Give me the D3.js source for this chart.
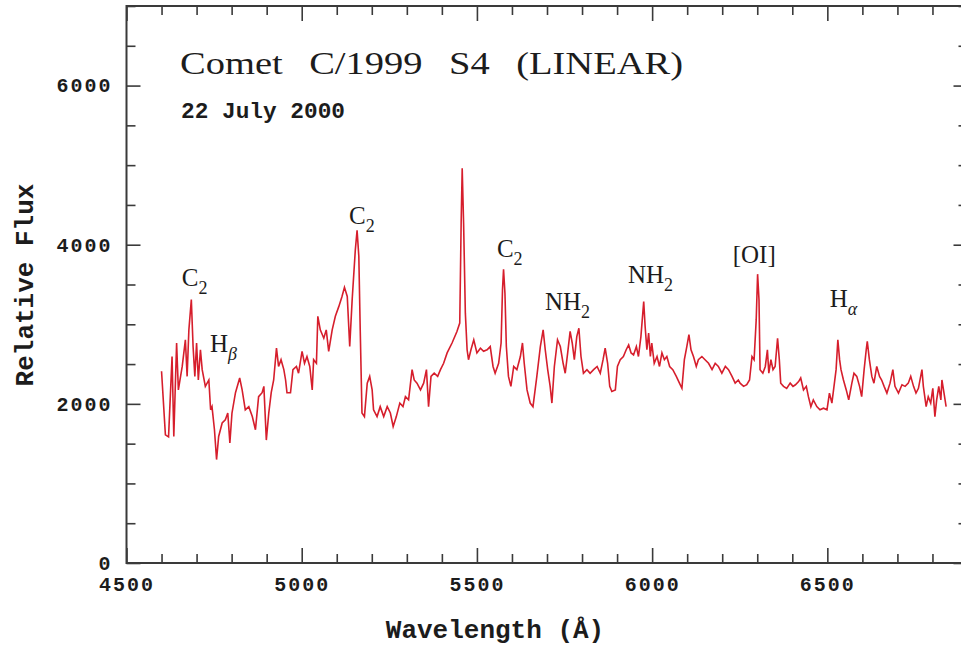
<!DOCTYPE html>
<html>
<head>
<meta charset="utf-8">
<script src="https://cdn.jsdelivr.net/npm/d3@7"></script>
<style>
  html, body { margin: 0; padding: 0; background: #fff; }
  svg { display: block; }
</style>
</head>
<body>
<svg id="chart" width="961" height="647"></svg>
<script>
// ---------------- data ----------------
const wavelength = [
  4600,4611,4620,4630,4635,4643,4648,4659,4668,4673,
  4678,4685,4690,4695,4700,4705,4711,4716,4725,4735,
  4740,4744,4751,4757,4763,4773,4782,4789,4795,4801,
  4811,4823,4830,4839,4849,4859,4868,4877,4887,4892,
  4899,4906,4913,4920,4928,4934,4941,4949,4954,4958,
  4968,4975,4985,4991,5001,5008,5015,5023,5030,5034,
  5042,5046,5053,5063,5070,5077,5087,5096,5106,5115,
  5122,5130,5137,5144,5153,5158,5163,5167,5172,5179,
  5187,5194,5201,5205,5215,5224,5234,5244,5253,5261,
  5270,5280,5289,5296,5305,5315,5321,5329,5339,5348,
  5356,5362,5369,5378,5388,5396,5405,5415,5429,5443,
  5451,5455,5458,5462,5467,5472,5476,5483,5491,5500,
  5510,5519,5529,5538,5546,5552,5562,5569,5573,5576,
  5580,5584,5590,5597,5605,5614,5624,5630,5635,5643,
  5652,5660,5671,5681,5689,5695,5702,5709,5714,5721,
  5730,5738,5746,5752,5759,5766,5772,5778,5785,5791,
  5797,5804,5814,5823,5833,5843,5852,5860,5866,5873,
  5879,5885,5895,5901,5909,5918,5926,5933,5940,5947,
  5955,5961,5968,5976,5980,5985,5990,5995,5999,6006,
  6014,6021,6028,6035,6042,6050,6059,6069,6078,6085,
  6092,6099,6105,6111,6118,6126,6132,6142,6151,6161,
  6171,6180,6189,6199,6209,6218,6228,6237,6246,6251,
  6261,6270,6278,6285,6291,6297,6301,6305,6308,6316,
  6323,6329,6333,6339,6345,6351,6358,6363,6367,6375,
  6384,6394,6402,6409,6418,6424,6432,6440,6446,6453,
  6460,6470,6479,6489,6499,6506,6513,6519,6525,6530,
  6535,6539,6546,6554,6561,6570,6576,6584,6592,6598,
  6605,6611,6614,6620,6627,6633,6641,6649,6655,6662,
  6670,6679,6687,6693,6703,6713,6722,6731,6738,6746,
  6753,6760,6770,6774,6782,6788,6795,6801,6807,6812,
  6818,6824,6827,6833,6839
];
const flux = [
  2410,1610,1585,2595,1590,2765,2175,2470,2805,2345,
  2930,3310,2720,2345,2765,2300,2680,2430,2220,2300,
  1925,1965,1675,1300,1590,1760,1800,1885,1510,1885,
  2140,2325,2175,1925,1965,1840,1675,2090,2140,2220,
  1545,1885,2140,2300,2700,2470,2555,2430,2300,2140,
  2140,2430,2470,2385,2660,2510,2595,2470,2175,2555,
  2510,3100,2930,2825,2930,2660,2930,3100,3225,3350,
  3465,3350,2720,3310,3935,4180,3855,2930,1885,1840,
  2260,2345,2175,1925,1840,1965,1840,1965,1885,1715,
  1840,2010,1965,2090,2050,2430,2300,2260,2175,2260,
  2430,1965,2345,2385,2345,2430,2510,2640,2765,2910,
  3015,4270,4960,4270,3140,2680,2555,2680,2805,2640,
  2700,2660,2680,2720,2470,2385,2510,2765,3435,3690,
  3390,2720,2345,2220,2470,2430,2595,2765,2510,2175,
  2010,1965,2345,2720,2930,2680,2430,2220,2010,2470,
  2805,2720,2510,2385,2640,2910,2765,2555,2845,2950,
  2595,2385,2430,2385,2430,2470,2385,2555,2700,2510,
  2220,2155,2175,2470,2555,2595,2680,2740,2640,2615,
  2720,2595,2845,3285,2975,2680,2890,2595,2765,2510,
  2595,2470,2640,2555,2595,2470,2430,2345,2260,2195,
  2555,2720,2870,2680,2595,2470,2555,2595,2555,2510,
  2430,2510,2470,2385,2470,2430,2345,2260,2300,2260,
  2220,2240,2300,2595,2555,3055,3630,3310,2430,2385,
  2470,2680,2385,2555,2430,2470,2825,2555,2260,2220,
  2195,2260,2220,2240,2280,2325,2175,2220,2090,1965,
  2050,1965,1925,1945,1925,2135,2010,2220,2430,2805,
  2555,2430,2300,2175,2050,2260,2385,2345,2220,2090,
  2430,2680,2785,2555,2345,2260,2470,2345,2300,2220,
  2135,2260,2430,2220,2135,2240,2220,2260,2345,2220,
  2135,2195,2430,2220,1965,2090,2010,2195,1840,2050,
  2220,2050,2300,2135,1965
];

const xMajorTicks = [4500, 5000, 5500, 6000, 6500];
const yMajorTicks = [0, 2000, 4000, 6000];

const titleText = "Comet C/1999 S4 (LINEAR)";
const dateText = "22 July 2000";
const xLabel = "Wavelength (Å)";
const yLabel = "Relative Flux";

// line identifications: main text, subscript, anchor in data units (wavelength, flux)
const lineNames = ["C", "H", "C", "C", "NH", "NH", "[OI]", "H"];
const lineSubs  = ["2", "β", "2", "2", "2", "2", "", "α"];
const lineLam   = [4658, 4738, 5135, 5557, 5694, 5931, 6230, 6507];
const lineFlux  = [3487, 2647, 4265, 3851, 3174, 3525, 3776, 3211];

// ---------------- layout ----------------
const svg = d3.select("#chart");
const L = 126.5, R = 967.5, T = 6, B = 563;
const x = d3.scaleLinear().domain([4500, 6900]).range([L, R]);
const y = d3.scaleLinear().domain([0, 7000]).range([B, T]);

const axisColor = "#3a3a3a";
const textColor = "#1c1c1c";
const monoFont = "'Liberation Mono', 'DejaVu Sans Mono', monospace";
const serifFont = "'Liberation Serif', 'DejaVu Serif', serif";

const xMinor = d3.range(4500, 6901, 100);
const yMinor = d3.range(0, 7001, 500);

function styleAxis(g) {
  g.select(".domain").remove();
  g.selectAll(".tick line").attr("stroke", axisColor).attr("stroke-width", 1.6);
}

// minor ticks
svg.append("g").attr("transform", `translate(0,${B})`)
  .call(d3.axisBottom(x).tickValues(xMinor.filter(v => v % 500 !== 0)).tickSize(-9).tickFormat(""))
  .call(styleAxis);
svg.append("g").attr("transform", `translate(0,${T})`)
  .call(d3.axisTop(x).tickValues(xMinor.filter(v => v % 500 !== 0)).tickSize(-9).tickFormat(""))
  .call(styleAxis);
svg.append("g").attr("transform", `translate(${L},0)`)
  .call(d3.axisLeft(y).tickValues(yMinor.filter(v => v % 2000 !== 0)).tickSize(-9).tickFormat(""))
  .call(styleAxis);
svg.append("g").attr("transform", `translate(${R},0)`)
  .call(d3.axisRight(y).tickValues(yMinor.filter(v => v % 2000 !== 0)).tickSize(-9).tickFormat(""))
  .call(styleAxis);

// major ticks with labels
const gxb = svg.append("g").attr("transform", `translate(0,${B})`)
  .call(d3.axisBottom(x).tickValues(xMajorTicks).tickSize(-15).tickPadding(14).tickFormat(d3.format("d")))
  .call(styleAxis);
svg.append("g").attr("transform", `translate(0,${T})`)
  .call(d3.axisTop(x).tickValues(xMajorTicks).tickSize(-15).tickFormat(""))
  .call(styleAxis);
const gyl = svg.append("g").attr("transform", `translate(${L},0)`)
  .call(d3.axisLeft(y).tickValues(yMajorTicks).tickSize(-14).tickPadding(14).tickFormat(d3.format("d")))
  .call(styleAxis);
svg.append("g").attr("transform", `translate(${R},0)`)
  .call(d3.axisRight(y).tickValues(yMajorTicks).tickSize(-14).tickFormat(""))
  .call(styleAxis);

[gxb, gyl].forEach(g => g.selectAll(".tick text")
  .attr("font-family", monoFont)
  .attr("font-weight", "bold")
  .attr("font-size", 20)
  .attr("letter-spacing", 2)
  .attr("fill", textColor));

// frame
svg.append("rect")
  .attr("x", L).attr("y", T).attr("width", R - L).attr("height", B - T)
  .attr("fill", "none").attr("stroke", axisColor).attr("stroke-width", 2);

// spectrum
svg.append("clipPath").attr("id", "plotclip")
  .append("rect").attr("x", L).attr("y", T).attr("width", R - L).attr("height", B - T);

const pts = wavelength.map((w, i) => [w, flux[i]]);
const line = d3.line().x(d => x(d[0])).y(d => y(d[1]));
svg.append("path")
  .datum(pts)
  .attr("clip-path", "url(#plotclip)")
  .attr("d", line)
  .attr("fill", "none")
  .attr("stroke", "#d61e2c")
  .attr("stroke-width", 1.6)
  .attr("stroke-linejoin", "miter");

// title & date
svg.append("text")
  .attr("x", 180).attr("y", 74)
  .attr("font-family", serifFont)
  .attr("font-size", 32)
  .attr("word-spacing", 14)
  .attr("fill", textColor)
  .attr("textLength", 503).attr("lengthAdjust", "spacingAndGlyphs")
  .text(titleText);

svg.append("text")
  .attr("x", 181).attr("y", 118)
  .attr("font-family", monoFont)
  .attr("font-weight", "bold")
  .attr("font-size", 22)
  .attr("fill", textColor)
  .attr("textLength", 164).attr("lengthAdjust", "spacingAndGlyphs")
  .text(dateText);

// axis titles
svg.append("text")
  .attr("x", 495).attr("y", 638)
  .attr("text-anchor", "middle")
  .attr("font-family", monoFont)
  .attr("font-weight", "bold")
  .attr("font-size", 26)
  .attr("fill", textColor)
  .text(xLabel);

svg.append("text")
  .attr("transform", "translate(33,285) rotate(-90)")
  .attr("text-anchor", "middle")
  .attr("font-family", monoFont)
  .attr("font-weight", "bold")
  .attr("font-size", 26)
  .attr("fill", textColor)
  .text(yLabel);

// line identifications
lineNames.forEach((name, i) => {
  const t = svg.append("text")
    .attr("x", x(lineLam[i])).attr("y", y(lineFlux[i]))
    .attr("font-family", serifFont)
    .attr("font-size", 25)
    .attr("fill", textColor);
  t.append("tspan").text(name);
  if (lineSubs[i]) {
    const greek = /[α-ω]/.test(lineSubs[i]);
    t.append("tspan")
      .attr("dy", 8)
      .attr("font-size", 18)
      .attr("font-style", greek ? "italic" : "normal")
      .text(lineSubs[i]);
  }
});
</script>
</body>
</html>
